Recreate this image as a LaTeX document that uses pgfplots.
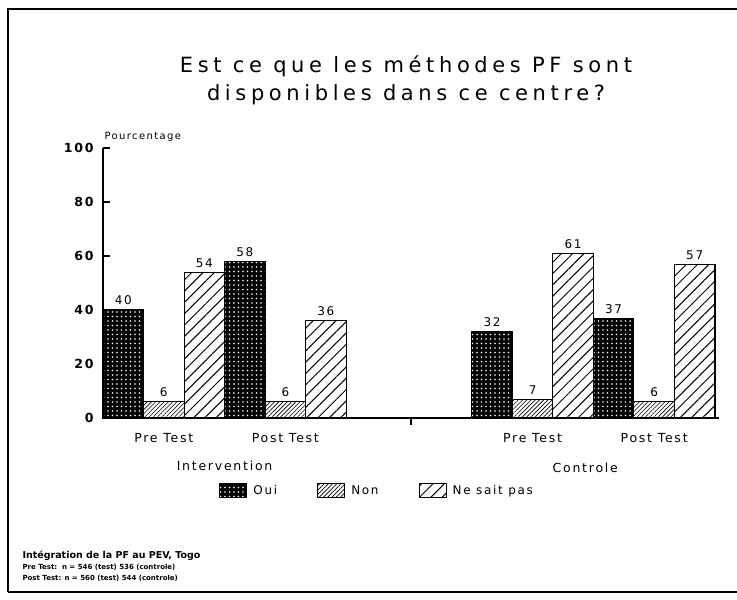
\documentclass[border=0pt]{standalone}
\usepackage{pgfplots}
\pgfplotsset{compat=1.18}
\usepackage{fontspec}
\setmainfont{DejaVu Sans}
\newfontfamily\titlefont{DejaVu Sans}[LetterSpace=22]
\newfontfamily\wide{DejaVu Sans}[LetterSpace=14]
\usetikzlibrary{patterns,patterns.meta}

\pgfplotstableread{
x y
0.5 40
3.5 58
9.6 32
12.6 37
}\oui
\pgfplotstableread{
x y
1.5 6
4.5 6
10.6 7
13.6 6
}\non
\pgfplotstableread{
x y
2.5 54
5.5 36
11.6 61
14.6 57
}\nsp

\begin{document}
\begin{tikzpicture}[x=1pt,y=1pt]
\path[use as bounding box] (0,0) rectangle (737,600);
\draw[line width=1.4pt] (8,8) -- (8,591) -- (737,591);
\draw[line width=1.4pt] (8,8) -- (737,8);
\node[font=\titlefont\fontsize{21}{24}\selectfont] at (406,534) {Est ce que les méthodes PF sont};
\node[font=\titlefont\fontsize{21}{24}\selectfont] at (406,505) {disponibles dans ce centre?};

\begin{axis}[
  at={(103pt,182pt)}, anchor=south west,
  scale only axis, width=616pt, height=270pt,
  xmin=0, xmax=15.2, ymin=0, ymax=100,
  axis lines=left,
  axis line style={-, line width=1.2pt},
  ytick={0,20,40,60,80,100},
  xtick={7.6}, xticklabels={},
  tick style={line width=1.1pt, black},
  major tick length=7pt,
  tick align=inside,
  /pgf/number format/assume math mode=true,
  yticklabel style={font=\wide\fontsize{12.5}{14}\selectfont\bfseries, xshift=-6pt},
  ylabel={Pourcentage},
  every axis y label/.style={at={(rel axis cs:0,1)}, anchor=south west, xshift=-2pt, yshift=3pt, font=\wide\fontsize{10}{12}\selectfont},
  ybar, bar width=1, bar shift=0pt,
  nodes near coords,
  every node near coord/.append style={font=\wide\fontsize{12}{14}\selectfont, yshift=1pt},
  clip=false,
  legend columns=3,
  legend style={draw=none, at={(rel axis cs:0.445,-0.27)}, anchor=center,
    font=\wide\fontsize{12}{14}\selectfont, /tikz/every even column/.append style={column sep=38pt}},
  legend image code/.code={\draw[#1] (0pt,-7pt) rectangle (27pt,7pt); \path (31pt,0pt);},
]
\addplot[draw=black, line width=1.1pt, fill=black, postaction={pattern={Dots[distance=4.5pt, radius=0.85pt]}, pattern color=white}] table[x=x,y=y] {\oui};
\addplot[draw=black, line width=1.1pt, pattern={Lines[angle=45, distance=3pt, line width=0.6pt]}] table[x=x,y=y] {\non};
\addplot[draw=black, line width=1.1pt, pattern={Lines[angle=45, distance=8pt, line width=1pt]}] table[x=x,y=y] {\nsp};
\legend{Oui, Non, Ne sait pas}
\node[font=\wide\fontsize{12.5}{14}\selectfont] at (axis cs:1.5,-7.5) {Pre Test};
\node[font=\wide\fontsize{12.5}{14}\selectfont] at (axis cs:4.5,-7.5) {Post Test};
\node[font=\wide\fontsize{12.5}{14}\selectfont] at (axis cs:10.6,-7.5) {Pre Test};
\node[font=\wide\fontsize{12.5}{14}\selectfont] at (axis cs:13.6,-7.5) {Post Test};
\node[font=\wide\fontsize{12.5}{14}\selectfont] at (axis cs:3,-17.8) {Intervention};
\node[font=\wide\fontsize{12.5}{14}\selectfont] at (axis cs:11.9,-18.5) {Controle};
\end{axis}

\node[anchor=west, font=\fontsize{9.5}{12}\selectfont\bfseries] at (19,44) {Intégration de la PF au PEV, Togo};
\node[anchor=west, font=\fontsize{7}{9}\selectfont\bfseries] at (19,33) {Pre Test:\ \ n = 546 (test) 536 (controle)};
\node[anchor=west, font=\fontsize{7}{9}\selectfont\bfseries] at (19,22) {Post Test: n = 560 (test) 544 (controle)};
\end{tikzpicture}
\end{document}
